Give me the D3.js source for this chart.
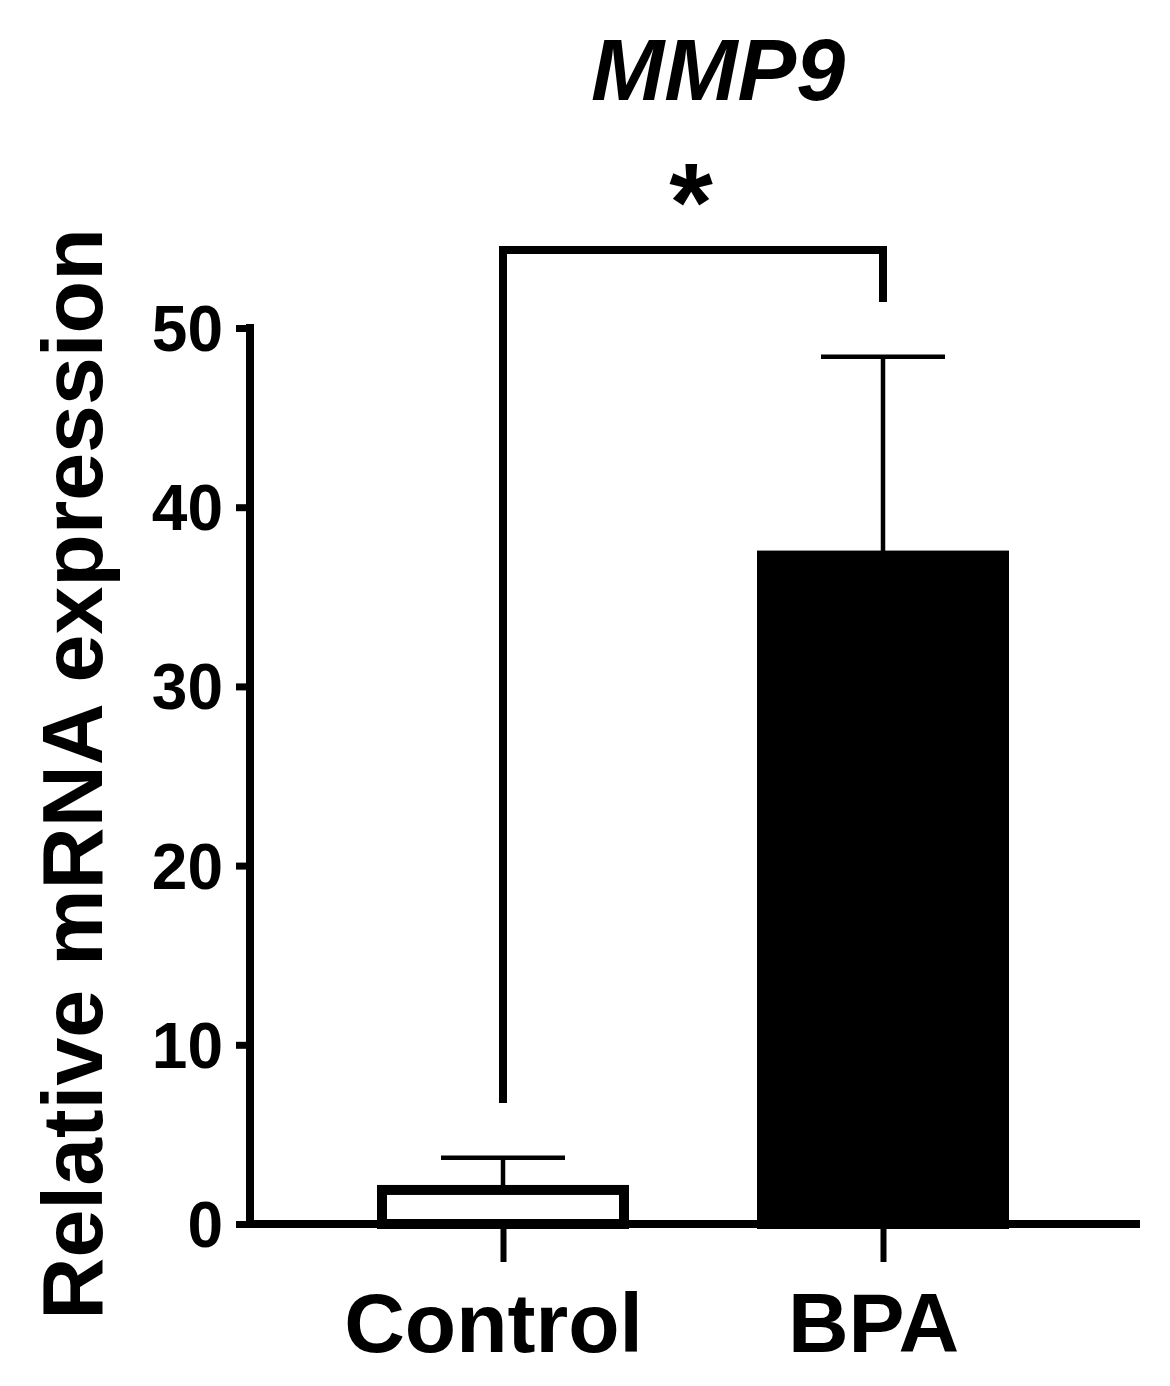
<!DOCTYPE html>
<html>
<head>
<meta charset="utf-8">
<script src="https://cdn.jsdelivr.net/npm/d3@7"></script>
<style>
  html, body { margin: 0; padding: 0; background: #fff; }
  svg { display: block; }
  text { font-family: "Liberation Sans", Arial, sans-serif; font-weight: bold; fill: #000; }
</style>
</head>
<body>
<svg id="chart" width="1170" height="1386"></svg>
<script>
// ---- data ----
const categories = ["Control", "BPA"];
const means = [1.9, 37.3];
const errUpper = [3.7, 48.4];          // mean + SD (upper whisker end)
const barFills = ["#fff", "#000"];
const yTicks = [0, 10, 20, 30, 40, 50];
const title = "MMP9";
const yLabel = "Relative mRNA expression";
// significance bracket: left foot, top, right foot (in data units)
const bracketLeft = 6.75, bracketTop = 54.35, bracketRight = 51.45, starLevel = 57.9;
const sigLabel = "*";

// ---- scales ----
const svg = d3.select("#chart");
const y = d3.scaleLinear().domain([0, 50]).range([1224, 328]);
const x = d3.scalePoint().domain(categories).range([313, 1073]).padding(0.5);
const barW = 252;

// ---- bars ----
const bars = categories.map((c, i) => ({ c, m: means[i], e: errUpper[i], fill: barFills[i] }));

// error bars (upper only)
const eg = svg.append("g");
bars.forEach(d => {
  eg.append("line")
    .attr("x1", x(d.c)).attr("x2", x(d.c))
    .attr("y1", y(d.m)).attr("y2", y(d.e))
    .attr("stroke", "#000").attr("stroke-width", 4.5);
  eg.append("line")
    .attr("x1", x(d.c) - 62).attr("x2", x(d.c) + 62)
    .attr("y1", y(d.e)).attr("y2", y(d.e))
    .attr("stroke", "#000").attr("stroke-width", 4.5);
});

const bw = 10;
svg.append("g").selectAll("rect").data(bars).join("rect")
  .attr("x", d => x(d.c) - barW / 2 + bw / 2)
  .attr("width", barW - bw)
  .attr("y", d => y(d.m))
  .attr("height", d => y(0) - y(d.m))
  .attr("fill", d => d.fill)
  .attr("stroke", "#000")
  .attr("stroke-width", bw);

// ---- axes ----
const yAxis = svg.append("g")
  .attr("transform", `translate(250,0)`)
  .call(d3.axisLeft(y).tickValues(yTicks).tickSize(14).tickSizeOuter(0).tickPadding(13));
yAxis.select(".domain").attr("stroke-width", 8).attr("d", `M0,${y(50) - 4}V${y(0) + 4}`);
yAxis.selectAll(".tick line").attr("stroke-width", 7);
yAxis.selectAll(".tick text").attr("font-size", 64).attr("font-family", null).attr("dy", "0.35em");

const xAxis = svg.append("g")
  .attr("transform", `translate(0,${y(0)})`)
  .call(d3.axisBottom(x).tickSize(38).tickSizeOuter(0).tickPadding(30));
xAxis.select(".domain").attr("stroke-width", 8).attr("d", `M246,0H1140`);
xAxis.selectAll(".tick line").attr("stroke-width", 6);
xAxis.selectAll(".tick text").attr("font-size", 84).attr("font-family", null).attr("dx", -10);

// ---- significance bracket ----
svg.append("path")
  .attr("d", `M${x(categories[0])},${y(bracketLeft)}V${y(bracketTop)}H${x(categories[1])}V${y(bracketRight)}`)
  .attr("fill", "none").attr("stroke", "#000").attr("stroke-width", 8)
  .attr("stroke-linejoin", "miter");
svg.append("text")
  .attr("x", (x(categories[0]) + x(categories[1])) / 2 - 2)
  .attr("y", y(starLevel))
  .attr("dy", "0.49em")
  .attr("text-anchor", "middle")
  .attr("font-family", "'DejaVu Sans', sans-serif")
  .attr("font-size", 112)
  .text(sigLabel);

// ---- title & y label ----
svg.append("text")
  .attr("x", 718).attr("y", 100)
  .attr("text-anchor", "middle")
  .attr("font-size", 88)
  .attr("font-style", "italic")
  .text(title);

svg.append("text")
  .attr("transform", `translate(102,774) rotate(-90)`)
  .attr("text-anchor", "middle")
  .attr("font-size", 86)
  .text(yLabel);
</script>
</body>
</html>
